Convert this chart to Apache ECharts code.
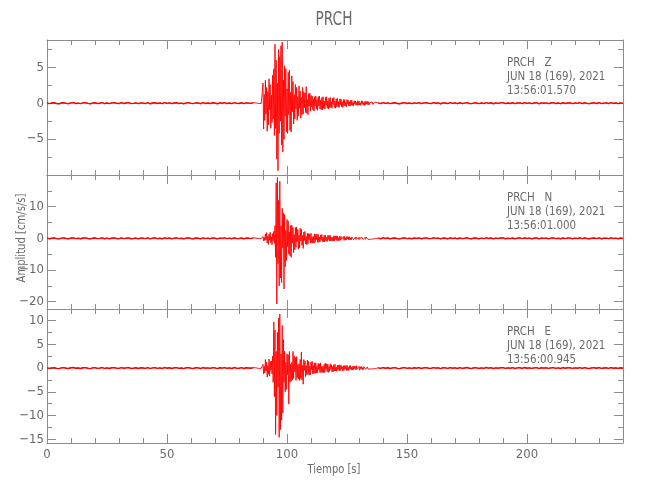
<!DOCTYPE html>
<html><head><meta charset="utf-8">
<script src="https://cdn.jsdelivr.net/npm/echarts@6/dist/echarts.min.js"></script>
<style>html,body{margin:0;padding:0;background:#fff}#c{width:650px;height:500px}</style>
</head><body><div id="c"></div>
<script>
// ---------- texts ----------
const stationTitle = 'PRCH';
const channelNames = ['Z', 'N', 'E'];
const dateLabel = 'JUN 18 (169), 2021';
const startTimes = ['13:56:01.570', '13:56:01.000', '13:56:00.945'];
const xTitle = 'Tiempo [s]';
const yTitle = 'Amplitud [cm/s/s]';

// ---------- ticks ----------
const xMajorTicks = [0, 50, 100, 150, 200];
const xMinorTicks = [10, 20, 30, 40, 60, 70, 80, 90, 110, 120, 130, 140, 160, 170, 180, 190, 210, 220, 230];
const zMajorTicks = [-5, 0, 5];
const zMinorTicks = [-7.5, -2.5, 2.5, 7.5];
const nMajorTicks = [-20, -10, 0, 10];
const nMinorTicks = [-15, -5, 5, 15];
const eMajorTicks = [-15, -10, -5, 0, 5, 10];
const eMinorTicks = [-12.5, -7.5, -2.5, 2.5, 7.5];
const xRange = [0, 240];
const zRange = [-10, 8.8];
const nRange = [-22.3, 20];
const eRange = [-15.8, 12.45];

// ---------- sampling of the traces (seconds) ----------
const preStart = 0, preStep = 1;          // quiet part before the event
const eventStart = 87, eventStep = 0.25;  // strong motion window (87 - 137 s)
const postStart = 138, postStep = 1;      // quiet part after the event

// ---------- Z channel [cm/s/s] ----------
const zPre = [.04,-.06,.02,.07,-.05,-.08,.03,.06,-.02,-.07,
.05,.08,-.04,.01,-.06,.05,.07,-.03,-.08,.02,
.06,-.05,-.01,.08,-.06,.03,-.07,.04,.06,-.02,
-.05,.07,-.04,.02,.08,-.06,-.03,.05,-.07,.04,
.01,-.05,.07,-.08,.03,.06,-.04,.02,-.06,.08,
-.02,.05,-.07,.03,.06,-.05,.01,-.08,.04,.07,
-.03,-.06,.05,.02,-.07,.08,-.04,.03,-.05,.06,
.02,-.08,.04,-.01,.07,-.05,.03,-.06,.08,-.02,
-.04,.06,-.07,.05,.01,-.03,.07];
const zEvent = [.05,-.07,.03,.06, -.04,.08,-.06,.02, .07,-.05,.04,-.08,
2.8,-3.6,1.2,-2.4, 3.2,-1.5,2.2,-3.9, 1.6,-3.0,3.4,-0.9, 2.6,-3.5,1.1,-2.7,
3.9,-2.2,4.8,-4.5, 8.2,-3.5,6.0,-7.8, 2.8,-9.4,7.5,-4.2, 6.5,-2.5,8.0,-5.8,
8.5,-6.8,3.2,-5.0, 5.2,-1.8,4.8,-4.0, 2.0,-4.2,4.3,-1.6, 4.6,-3.8,1.5,-4.0,
3.8,-1.2,3.0,-2.9, 1.2,-2.2,2.6,-0.8, 2.2,-2.4,0.9,-1.8, 2.4,-0.7,1.7,-2.1,
0.8,-1.6,2.2,-1.5, 1.6,-0.6,1.4,-1.3, 2.3,-1.4,0.5,-1.6, 1.3,-0.4,1.4,-1.1,
1.1,-0.5,1.0,-0.9, 0.6,-1.1,0.9,-0.4, 1.0,-0.8,0.5,-1.0, 0.9,-0.4,1.0,-0.8,
0.4,-0.9,0.8,-0.9, 0.9,-0.7,0.3,-0.8, 0.8,-0.3,0.9,-0.7, 0.3,-0.8,0.7,-0.6,
0.8,-0.6,0.2,-0.7, 0.7,-0.2,0.8,-0.6, 0.3,-0.7,0.6,-0.5, 0.7,-0.5,0.2,-0.6,
0.6,-0.2,0.6,-0.5, 0.2,-0.6,0.5,-0.4, 0.5,-0.4,0.1,-0.5, 0.5,-0.1,0.4,-0.4,
0.2,-0.4,0.4,-0.3, 0.4,-0.3,0.1,-0.4, 0.35,-0.1,0.3,-0.3, 0.1,-0.3,0.35,-0.25,
0.3,-0.25,0.05,-0.3, 0.35,-0.12,0.3,-0.28, 0.1,-0.3,0.28,-0.22, 0.26,-0.12,0.24,-0.25,
0.2,-0.22,0.06,-0.2, 0.2,-0.08,0.18,-0.16, 0.08,-0.15,0.14,-0.07, 0.1];
const zPost = [.04,-.06,.08,-.03,.05,-.07,.02,.06,-.05,-.08,
.03,.07,-.04,.02,-.06,.05,-.02,.08,-.07,.04,
.06,-.03,-.05,.07,-.01,.04,-.08,.05,.03,-.06,
.07,-.02,.04,-.07,.06,-.05,.01,.08,-.04,-.06,
.05,.02,-.07,.03,-.05,.08,-.02,.06,-.08,.04,
-.03,.05,.07,-.06,.02,-.04,.06,-.07,.03,.05,
-.05,.08,-.03,.04,-.06,.02,.07,-.08,.05,-.01,
.04,-.06,.03,.07,-.05,.02,-.07,.06,-.04,.05,
.03,-.06,.04,-.02,.07,-.05,.06,-.03,-.07,.02,
.05,-.04,.08,-.06,.01,.04,-.05,.07,-.02,.03,
-.06,.05,-.03];

// ---------- N channel [cm/s/s] ----------
const nPre = [.08,-.12,.05,.15,-.1,-.16,.06,.13,-.04,-.14,
.1,.16,-.08,.03,-.13,.11,.15,-.06,-.17,.04,
.12,-.1,-.02,.16,-.12,.07,-.15,.09,.13,-.05,
-.11,.14,-.08,.04,.17,-.13,-.06,.1,-.15,.08,
.02,-.1,.15,-.16,.06,.12,-.09,.05,-.13,.16,
-.04,.11,-.14,.07,.13,-.1,.03,-.17,.09,.15,
-.06,-.13,.1,.05,-.15,.16,-.08,.06,-.11,.13,
.04,-.16,.09,-.02,.14,-.1,.07,-.13,.17,-.05,
-.09,.12,-.15,.1,.03,-.07,.14];
const nEvent = [.1,-.14,.06,.12, -.08,.15,-.12,.04, .13,-.1,.08,-.15,
0.6,-0.8,0.3,-0.7, 1.4,-0.5,1.8,-1.5, 0.7,-1.9,1.3,-0.6, 1.9,-1.4,0.5,-2.0,
1.5,-0.7,2.2,-1.6, 4.0,-6.0,17.5,-20.7, 19.2,-8.0,12.0,-15.0, 18.0,-12.5,4.0,-14.0,
9.5,-3.0,8.0,-16.0, 7.5,-9.0,2.5,-7.0, 6.0,-2.6,5.5,-5.0, 2.0,-5.5,4.0,-6.0,
4.2,-1.5,3.5,-4.5, 1.2,-3.6,3.4,-2.8, 3.6,-1.0,2.8,-3.4, 1.0,-3.0,3.2,-0.8,
2.8,-2.2,0.9,-3.2, 2.0,-0.7,2.2,-1.8, 0.6,-2.0,1.6,-1.7, 1.5,-0.5,1.4,-1.5,
1.6,-1.3,0.5,-1.5, 0.6,-1.5,1.4,-1.2, 1.3,-0.5,1.4,-1.2, 1.2,-1.3,0.4,-1.1,
1.1,-0.4,1.2,-1.0, 0.4,-1.1,1.0,-1.1, 1.0,-0.9,0.3,-1.0, 0.9,-0.3,0.9,-0.9,
1.0,-0.8,0.3,-0.8, 0.3,-0.9,0.8,-0.8, 0.8,-0.3,0.8,-0.7, 0.7,-0.8,0.2,-0.7,
0.7,-0.6,0.6,-0.3, 0.3,-0.6,0.6,-0.6, 0.6,-0.6,0.2,-0.5, 0.6,-0.2,0.5,-0.5,
0.5,-0.5,0.2,-0.5, 0.45,-0.15,0.5,-0.4, 0.15,-0.45,0.4,-0.35, 0.4,-0.15,0.4,-0.3,
0.35,-0.35,0.1,-0.35, 0.45,-0.12,0.4,-0.38, 0.12,-0.4,0.35,-0.3, 0.34,-0.15,0.3,-0.32,
0.28,-0.3,0.08,-0.26, 0.26,-0.1,0.24,-0.22, 0.12,-0.22,0.2,-0.08, 0.15];
const nPost = [.08,-.12,.15,-.06,.1,-.14,.04,.12,-.1,-.16,
.06,.13,-.08,.04,-.12,.1,-.04,.16,-.13,.08,
.12,-.06,-.1,.14,-.02,.08,-.16,.1,.05,-.12,
.14,-.04,.08,-.13,.12,-.1,.02,.16,-.08,-.12,
.1,.04,-.14,.06,-.1,.16,-.04,.12,-.15,.08,
-.06,.1,.14,-.12,.04,-.08,.12,-.14,.06,.1,
-.1,.16,-.06,.08,-.12,.04,.14,-.16,.1,-.02,
.08,-.12,.06,.14,-.1,.04,-.14,.12,-.08,.1,
.06,-.12,.08,-.04,.14,-.1,.12,-.06,-.14,.04,
.1,-.08,.16,-.12,.02,.08,-.1,.14,-.04,.06,
-.12,.1,-.06];

// ---------- E channel [cm/s/s] ----------
const ePre = [.05,-.08,.03,.1,-.06,-.11,.04,.09,-.03,-.09,
.07,.11,-.05,.02,-.09,.07,.1,-.04,-.11,.03,
.08,-.07,-.01,.11,-.08,.05,-.1,.06,.09,-.03,
-.07,.1,-.05,.03,.11,-.09,-.04,.07,-.1,.05,
.01,-.07,.1,-.11,.04,.08,-.06,.03,-.09,.11,
-.03,.07,-.1,.05,.09,-.07,.02,-.11,.06,.1,
-.04,-.09,.07,.03,-.1,.11,-.05,.04,-.07,.09,
.03,-.11,.06,-.01,.1,-.07,.05,-.09,.11,-.03,
-.06,.08,-.1,.07,.02,-.05,.1];
const eEvent = [.06,-.09,.04,.1, -.07,.11,-.08,.03, .09,-.06,.05,-.1,
0.8,-1.2,0.4,-1.0, 1.8,-0.6,1.2,-1.9, 0.5,-1.3,1.9,-1.7, 1.4,-0.5,1.5,-1.2,
2.5,-3.0,9.7,-6.0, 8.0,-14.0,3.5,-10.0, 7.5,-4.0,10.5,-14.6, 11.4,-13.0,3.0,-11.0,
9.0,-9.5,6.0,-3.0, 3.6,-5.0,1.2,-4.5, 3.0,-1.4,2.8,-7.6, 3.5,-3.0,0.8,-2.8,
1.2,-2.5,3.5,-2.2, 2.6,-0.8,2.2,-2.6, 2.4,-2.0,0.7,-2.3, 0.9,-2.6,1.8,-2.2,
3.4,-2.5,0.6,-3.4, 1.8,-0.5,1.5,-1.8, 0.5,-1.4,1.7,-1.3, 1.4,-1.5,0.4,-1.4,
1.3,-0.4,1.4,-1.2, 0.5,-1.2,1.1,-1.1, 1.1,-1.0,0.4,-1.0, 1.0,-0.4,0.9,-1.0,
1.1,-0.9,0.3,-0.9, 0.4,-1.0,0.8,-0.9, 1.0,-0.3,0.9,-0.8, 0.8,-0.9,0.3,-0.7,
0.9,-0.3,0.7,-0.8, 0.3,-0.8,0.7,-0.6, 0.8,-0.6,0.2,-0.7, 0.6,-0.3,0.6,-0.6,
0.7,-0.5,0.6,-0.2, 0.3,-0.6,0.5,-0.5, 0.5,-0.2,0.5,-0.5, 0.6,-0.5,0.2,-0.5,
0.5,-0.2,0.5,-0.4, 0.2,-0.4,0.45,-0.35, 0.4,-0.15,0.38,-0.4, 0.5,-0.25,0.15,-0.35,
0.35,-0.45,0.3,-0.15, 0.32,-0.36,0.1,-0.34, 0.3,-0.12,0.3,-0.26, 0.1,-0.26,0.24,-0.2,
0.22,-0.08,0.2,-0.2, 0.16,-0.18,0.06,-0.17, 0.14,-0.08,0.14,-0.12, 0.08];
const ePost = [.05,-.08,.1,-.04,.07,-.1,.03,.09,-.07,-.11,
.04,.09,-.06,.03,-.08,.07,-.03,.11,-.09,.05,
.08,-.04,-.07,.1,-.01,.05,-.11,.07,.04,-.08,
.1,-.03,.05,-.09,.08,-.07,.01,.11,-.05,-.08,
.07,.03,-.1,.04,-.07,.11,-.03,.08,-.1,.05,
-.04,.07,.1,-.08,.03,-.05,.08,-.1,.04,.07,
-.07,.11,-.04,.05,-.08,.03,.1,-.11,.07,-.01,
.05,-.08,.04,.1,-.07,.03,-.1,.08,-.05,.07,
.04,-.08,.05,-.03,.1,-.07,.08,-.04,-.1,.03,
.07,-.05,.11,-.08,.01,.05,-.07,.1,-.03,.04,
-.08,.07,-.04];

// ---------- build ----------
const toPoints = (arr, start, step) => arr.map((v, i) => [start + i * step, v]);
function buildTrace(pre, ev, post) {
  return toPoints(pre, preStart, preStep)
    .concat(toPoints(ev, eventStart, eventStep))
    .concat(toPoints(post, postStart, postStep));
}
const channelsData = [[zPre, zEvent, zPost], [nPre, nEvent, nPost], [ePre, eEvent, ePost]];
const yRanges = [zRange, nRange, eRange];
const yMajors = [zMajorTicks, nMajorTicks, eMajorTicks];
const yMinors = [zMinorTicks, nMinorTicks, eMinorTicks];

const FONT = "'DejaVu Sans Condensed', 'DejaVu Sans', sans-serif";
const AXIS_COLOR = '#8c8c8c';
const TEXT_COLOR = '#6a6a6a';
const RED = '#ff0000';
const LEFT = 47, WIDTH = 576;
const tops = [40, 175, 309];
const heights = [135, 134, 134];
const fmt = v => String(v).replace('-', '\u2212');

const grids = [], xAxes = [], yAxes = [], series = [], graphics = [];
for (let g = 0; g < 3; g++) {
  grids.push({left: LEFT, top: tops[g], width: WIDTH, height: heights[g], containLabel: false});
  const xBase = {type: 'value', gridIndex: g, min: xRange[0], max: xRange[1], splitLine: {show: false}};
  const tickStyle = {color: AXIS_COLOR, width: 1};
  [['bottom', true], ['bottom', false], ['top', true], ['top', false]].forEach(([pos, major]) => {
    xAxes.push(Object.assign({}, xBase, {
      position: pos,
      axisLine: {show: major, onZero: false, lineStyle: {color: AXIS_COLOR, width: 1}},
      axisTick: {show: true, inside: true, length: major ? 9 : 5, lineStyle: tickStyle,
                 customValues: major ? xMajorTicks : xMinorTicks},
      axisLabel: {show: major && pos === 'bottom' && g === 2, customValues: xMajorTicks, margin: 5,
                  color: TEXT_COLOR, fontFamily: FONT, fontSize: 13, formatter: fmt}
    }));
  });
  const yBase = {type: 'value', gridIndex: g, min: yRanges[g][0], max: yRanges[g][1], splitLine: {show: false}};
  [['left', true], ['left', false], ['right', true], ['right', false]].forEach(([pos, major]) => {
    yAxes.push(Object.assign({}, yBase, {
      position: pos,
      axisLine: {show: major, onZero: false, lineStyle: {color: AXIS_COLOR, width: 1}},
      axisTick: {show: true, inside: true, length: major ? 9 : 5, lineStyle: tickStyle,
                 customValues: major ? yMajors[g] : yMinors[g]},
      axisLabel: {show: major && pos === 'left', customValues: yMajors[g], margin: 3,
                  color: TEXT_COLOR, fontFamily: FONT, fontSize: 13, formatter: fmt}
    }));
  });
  const [pre, ev, post] = channelsData[g];
  const common = {type: 'line', xAxisIndex: g * 4, yAxisIndex: g * 4, showSymbol: false, symbol: 'none',
                  smooth: false, animation: false, silent: true, itemStyle: {color: RED}};
  // full trace, thin line
  series.push(Object.assign({}, common, {data: buildTrace(pre, ev, post), lineStyle: {color: RED, width: 0.9}}));
  // quiet parts drawn a little heavier, as in the original plot
  series.push(Object.assign({}, common, {data: toPoints(pre, preStart, preStep), lineStyle: {color: RED, width: 1.4}}));
  series.push(Object.assign({}, common, {data: toPoints(post, postStart, postStep), lineStyle: {color: RED, width: 1.4}}));

  const lines = [stationTitle + '   ' + channelNames[g], dateLabel, startTimes[g]];
  const offs = [22.5, 36.5, 51];
  lines.forEach((t, k) => graphics.push({
    type: 'text', x: 507, y: tops[g] + offs[k], scaleX: 0.88, silent: true,
    style: {text: t, fill: TEXT_COLOR, font: '13px ' + FONT, align: 'left', verticalAlign: 'middle'}
  }));
}
graphics.push({type: 'text', x: 334, y: 20, scaleX: 0.8, silent: true,
  style: {text: stationTitle, fill: TEXT_COLOR, font: '19px ' + FONT, align: 'center', verticalAlign: 'middle'}});
graphics.push({type: 'text', x: 334, y: 470, scaleX: 0.85, silent: true,
  style: {text: xTitle, fill: TEXT_COLOR, font: '13px ' + FONT, align: 'center', verticalAlign: 'middle'}});
graphics.push({type: 'text', x: 22, y: 238, rotation: Math.PI / 2, scaleX: 0.86, silent: true,
  style: {text: yTitle, fill: TEXT_COLOR, font: '13px ' + FONT, align: 'center', verticalAlign: 'middle'}});

const chart = echarts.init(document.getElementById('c'), null, {renderer: 'canvas'});
chart.setOption({
  animation: false,
  backgroundColor: '#ffffff',
  grid: grids, xAxis: xAxes, yAxis: yAxes, series: series, graphic: graphics
});
</script></body></html>
